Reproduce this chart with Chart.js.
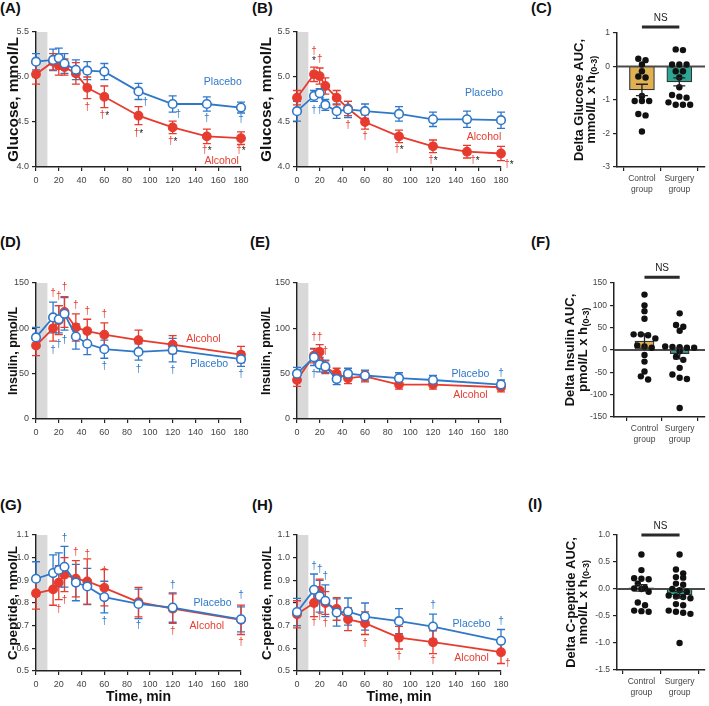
<!DOCTYPE html>
<html><head><meta charset="utf-8">
<script src="https://cdn.jsdelivr.net/npm/chart.js@4.4.1/dist/chart.umd.min.js"></script>
<style>
html,body{margin:0;padding:0;background:#fff}
body{width:709px;height:706px;position:relative;overflow:hidden;font-family:'Liberation Sans',Arial,sans-serif}
canvas{position:absolute}
.lab{position:absolute;font:bold 15px/15px 'Liberation Sans',Arial,sans-serif;color:#111}
</style></head>
<body>
<div class="lab" style="left:0;top:0">(A)</div>
<div class="lab" style="left:252px;top:0">(B)</div>
<div class="lab" style="left:531px;top:0">(C)</div>
<div class="lab" style="left:0;top:234px">(D)</div>
<div class="lab" style="left:250px;top:234px">(E)</div>
<div class="lab" style="left:531px;top:234px">(F)</div>
<div class="lab" style="left:0;top:497px">(G)</div>
<div class="lab" style="left:252px;top:497px">(H)</div>
<div class="lab" style="left:528px;top:496px">(I)</div>
<script>
// ---------------- DATA ----------------
const timesFull = [0,15,20,25,35,45,60,90,120,150,180];
const timesShort = [0,15,20,25,35,45,60,90,120,180];
const timeTicks = [0,20,40,60,80,100,120,140,160,180];

// (A) glucose, control group
const glucoseCtrlPlacebo    = [5.17,5.19,5.21,5.15,5.08,5.07,5.06,4.84,4.70,4.70,4.66];
const glucoseCtrlPlaceboSem = [0.09,0.12,0.11,0.11,0.11,0.10,0.09,0.09,0.09,0.08,0.06];
const glucoseCtrlAlcohol    = [5.03,5.17,5.13,5.11,5.04,4.88,4.78,4.57,4.44,4.34,4.32];
const glucoseCtrlAlcoholSem = [0.11,0.09,0.11,0.09,0.12,0.12,0.12,0.10,0.07,0.08,0.07];
// (B) glucose, surgery group
const glucoseSurgPlacebo    = [4.62,4.79,4.82,4.69,4.62,4.64,4.62,4.59,4.53,4.53,4.52];
const glucoseSurgPlaceboSem = [0.11,0.06,0.05,0.06,0.08,0.09,0.08,0.08,0.08,0.09,0.09];
const glucoseSurgAlcohol    = [4.77,5.03,5.01,4.90,4.77,4.65,4.50,4.34,4.23,4.17,4.15];
const glucoseSurgAlcoholSem = [0.08,0.08,0.09,0.09,0.08,0.08,0.08,0.07,0.07,0.07,0.08];
// (D) insulin, control group
const insulinCtrlPlacebo    = [90,112,110,116,91,83,77,74,76,66];
const insulinCtrlPlaceboSem = [11,17,15,18,14,12,10,9,13,8];
const insulinCtrlAlcohol    = [81,100,109,118,101,97,93,87,82,71];
const insulinCtrlAlcoholSem = [11,14,16,17,15,13,13,11,10,9];
// (E) insulin, surgery group
const insulinSurgPlacebo    = [50,68,60,58,44,50,48,45,43,38];
const insulinSurgPlaceboSem = [7,9,8,7,6,6,6,6,5,5];
const insulinSurgAlcohol    = [43,70,74,57,50,45,47,38,38,35];
const insulinSurgAlcoholSem = [7,8,8,7,6,6,6,5,5,5];
// (G) C-peptide, control group
const cpepCtrlPlacebo    = [0.907,0.932,0.946,0.960,0.890,0.873,0.826,0.796,0.780,0.728];
const cpepCtrlPlaceboSem = [0.075,0.08,0.075,0.09,0.08,0.08,0.07,0.065,0.065,0.055];
const cpepCtrlAlcohol    = [0.843,0.860,0.890,0.925,0.907,0.895,0.867,0.804,0.775,0.726];
const cpepCtrlAlcoholSem = [0.07,0.07,0.075,0.075,0.08,0.10,0.08,0.065,0.065,0.065];
// (H) C-peptide, surgery group
const cpepSurgPlacebo    = [0.760,0.858,0.830,0.810,0.758,0.762,0.740,0.720,0.696,0.633];
const cpepSurgPlaceboSem = [0.06,0.07,0.07,0.07,0.06,0.06,0.06,0.055,0.055,0.05];
const cpepSurgAlcohol    = [0.750,0.800,0.855,0.800,0.774,0.728,0.711,0.647,0.627,0.583];
const cpepSurgAlcoholSem = [0.06,0.06,0.05,0.05,0.05,0.05,0.05,0.05,0.05,0.05];

// significance marks: [series, time, value, text]  (p = placebo, a = alcohol, k = black)
const marksA = [['a',45,4.66,'†'],['a',60,4.57,'†*'],['a',90,4.38,'†*'],['a',120,4.29,'†*'],['a',150,4.19,'†*'],['a',180,4.19,'†*'],
                ['p',96,4.72,'†'],['p',125,4.59,'†'],['p',150,4.54,'†'],['p',180,4.53,'†']];
const marksB = [['a',15,5.29,'†'],['k',15,5.19,'*'],['a',20,5.20,'†'],['a',45,4.46,'†'],['a',60,4.34,'†'],['a',90,4.20,'†*'],
                ['a',120,4.07,'†*'],['a',157,4.07,'†*'],['a',187,4.03,'†*'],['p',15,4.63,'†'],['p',20,4.63,'†']];
const marksD = [['a',15,139,'†'],['a',20,135,'†'],['a',25,145,'†'],['a',35,126,'†'],['a',45,119,'†'],['a',60,115,'†'],
                ['p',15,76,'†'],['p',20,82,'†'],['p',25,87,'†'],['p',60,58,'†'],['p',90,55,'†'],['p',120,54,'†'],['p',180,49,'†']];
const marksE = [['a',15,90,'†'],['a',20,90,'†'],['a',25,75,'†'],['p',15,49,'†'],['p',180,50,'†']];
const marksG = [['p',25,1.087,'†'],['p',60,0.718,'†'],['p',90,0.70,'†'],['p',120,0.88,'†'],['p',180,0.832,'†'],
                ['a',35,1.026,'†'],['a',45,1.013,'†'],['a',60,0.94,'†'],['a',20,0.774,'†'],['a',25,0.811,'†'],['a',120,0.674,'†'],['a',180,0.625,'†']];
const marksH = [['p',15,0.964,'†'],['p',20,0.95,'†'],['p',25,0.917,'†'],['p',120,0.789,'†'],['p',180,0.718,'†'],
                ['a',15,0.715,'†'],['a',20,0.743,'†'],['a',25,0.711,'†'],['a',60,0.622,'†'],['a',90,0.563,'†'],['a',120,0.546,'†'],['a',186,0.534,'†']];

// series name labels: [series, time, value]
const namesA = [['p',164,4.94],['a',163,4.06]];
const namesB = [['p',165,4.82],['a',165,4.33]];
const namesD = [['a',147,88],['p',152,60]];
const namesE = [['p',153,50],['a',153,26.5]];
const namesG = [['p',155,0.80],['a',150,0.70]];
const namesH = [['p',154,0.706],['a',154,0.556]];

// AUC panels
const groups = [['Control','group'],['Surgery','group']];
const groupPos = [1, 2.5];
const glucoseAucMean = [-0.70,-0.46], glucoseAucSem = [0.17,0.12];
const glucoseAucCtrl = [0.23,0.19,0.06,-0.14,-0.30,-0.33,-0.88,-1.03,-1.03,-1.03,-1.42,-1.46,-1.94];
const glucoseAucSurg = [0.51,0.49,0.06,0.06,0.06,-0.14,-0.14,-0.33,-0.62,-0.85,-0.90,-0.93,-1.07,-1.14,-1.14,-1.14];
const insulinAucMean = [20,-8], insulinAucSem = [16,12];
const insulinAucCtrl = [124,100,87,70,35,35,33,26,10,8,5,-11,-26,-48,-59,-66];
const insulinAucSurg = [82,56,52,43,8,7,6,5,5,-3,-15,-22,-40,-55,-62,-65,-130];
const cpepAucMean = [0.02,-0.11], cpepAucSem = [0.06,0.06];
const cpepAucCtrl = [0.64,0.35,0.20,0.19,0.18,0.10,0.02,0.01,0.0,-0.05,-0.25,-0.30,-0.40,-0.41,-0.42];
const cpepAucSurg = [0.64,0.36,0.29,0.22,0.21,0.10,0.08,0.0,-0.02,-0.05,-0.12,-0.14,-0.15,-0.17,-0.28,-0.30,-0.40,-0.42,-0.44,-0.46,-1.0];

// ---------------- DRAWING ----------------
const FONT = "'Liberation Sans', Arial, sans-serif";
const BLUE = '#2f78c9', RED = '#e63b2e', INK = '#222', TICK = '#444';
const GOLD = '#dfb153', TEAL = '#2fa693';
const COL = {p: BLUE, a: RED, k: INK};
Chart.defaults.font.family = FONT;

function mkCanvas(left, top, w, h){
  const c = document.createElement('canvas');
  c.width = w; c.height = h;
  c.style.left = left+'px'; c.style.top = top+'px';
  c.style.width = w+'px'; c.style.height = h+'px';
  document.body.appendChild(c);
  return c;
}

const deco = {
  id: 'deco',
  beforeDatasetsDraw(chart, args, o){
    const {ctx, chartArea: a, scales: {x, y}} = chart;
    if (o.band){
      const x0 = x.getPixelForValue(o.band[0]), x1 = x.getPixelForValue(o.band[1]);
      ctx.save(); ctx.fillStyle = '#d9d9d9';
      ctx.fillRect(x0+1, a.top, x1-x0-1, a.bottom-a.top-1);
      ctx.restore();
    }
    if (o.lineErrors){
      chart.data.datasets.forEach(ds => {
        if (!ds.errors) return;
        ctx.save(); ctx.strokeStyle = ds.borderColor; ctx.lineWidth = 1.3;
        ds.data.forEach((p, i) => {
          const e = ds.errors[i];
          const px = x.getPixelForValue(p.x), pt = y.getPixelForValue(p.y+e), pb = y.getPixelForValue(p.y-e);
          ctx.beginPath();
          ctx.moveTo(px, pt); ctx.lineTo(px, pb);
          ctx.moveTo(px-4, pt); ctx.lineTo(px+4, pt);
          ctx.moveTo(px-4, pb); ctx.lineTo(px+4, pb);
          ctx.stroke();
        });
        ctx.restore();
      });
    }
  },
  afterDatasetDraw(chart, args, o){
    if (!o.zero || chart.data.datasets[args.index].type !== 'bar') return;
    const {ctx, chartArea: a, scales: {y}} = chart;
    const y0 = y.getPixelForValue(0);
    ctx.save(); ctx.strokeStyle = '#4a4a4a'; ctx.lineWidth = 2;
    ctx.beginPath(); ctx.moveTo(a.left, y0); ctx.lineTo(a.right, y0); ctx.stroke();
    ctx.restore();
  },
  afterDatasetsDraw(chart, args, o){
    const {ctx, chartArea: a, scales: {x, y}} = chart;
    ctx.save();
    ctx.textBaseline = 'middle';
    (o.marks || []).forEach(([s, t, v, txt]) => {
      const px = x.getPixelForValue(t), py = y.getPixelForValue(v);
      ctx.font = '10px ' + FONT;
      const w = ctx.measureText(txt).width;
      let cx = px - w/2;
      ctx.textAlign = 'left';
      for (const ch of txt){
        ctx.fillStyle = ch === '*' ? INK : COL[s];
        ctx.fillText(ch, cx, ch === '*' ? py + 1 : py);
        cx += ctx.measureText(ch).width;
      }
    });
    (o.names || []).forEach(([s, t, v]) => {
      ctx.font = '10.5px ' + FONT; ctx.textAlign = 'center'; ctx.fillStyle = COL[s];
      ctx.fillText(s === 'p' ? 'Placebo' : 'Alcohol', x.getPixelForValue(t), y.getPixelForValue(v));
    });
    if (o.barErrors){
      const {pos, mean, sem} = o.barErrors;
      ctx.strokeStyle = INK; ctx.lineWidth = 1.3;
      pos.forEach((p, i) => {
        const px = x.getPixelForValue(p), pt = y.getPixelForValue(mean[i]+sem[i]), pb = y.getPixelForValue(mean[i]-sem[i]);
        ctx.beginPath();
        ctx.moveTo(px, pt); ctx.lineTo(px, pb);
        ctx.moveTo(px-6, pt); ctx.lineTo(px+6, pt);
        ctx.moveTo(px-6, pb); ctx.lineTo(px+6, pb);
        ctx.stroke();
      });
    }
    if (o.ns){
      const x1 = x.getPixelForValue(o.ns.from), x2 = x.getPixelForValue(o.ns.to), py = y.getPixelForValue(o.ns.y);
      ctx.strokeStyle = '#2a2a2a'; ctx.lineWidth = 3;
      ctx.beginPath(); ctx.moveTo(x1, py); ctx.lineTo(x2, py); ctx.stroke();
      ctx.font = '10px ' + FONT; ctx.fillStyle = INK; ctx.textAlign = 'center';
      ctx.fillText('NS', (x1+x2)/2, py - 9);
    }
    if (o.yTitle){
      const cy = (a.top + a.bottom)/2;
      const t = o.yTitle;
      ctx.save(); ctx.translate(a.left - t.off[0], cy); ctx.rotate(-Math.PI/2);
      ctx.font = 'bold 13px ' + FONT; ctx.fillStyle = '#111'; ctx.textAlign = 'center';
      ctx.fillText(t.line1, 0, 0);
      ctx.restore();
      ctx.save(); ctx.translate(a.left - t.off[1], cy); ctx.rotate(-Math.PI/2);
      ctx.fillStyle = '#111'; ctx.textAlign = 'left';
      ctx.font = 'bold 13px ' + FONT; const w1 = ctx.measureText(t.line2).width;
      ctx.font = 'bold 9px ' + FONT; const w2 = ctx.measureText(t.sub).width;
      const sx = -(w1+w2)/2;
      ctx.font = 'bold 13px ' + FONT; ctx.fillText(t.line2, sx, 0);
      ctx.font = 'bold 9px ' + FONT; ctx.fillText(t.sub, sx + w1 + 0.5, 4);
      ctx.restore();
    }
    ctx.restore();
  }
};

function axisCommon(){
  return {
    grid: {drawOnChartArea: false, drawTicks: true, tickLength: 4, color: INK, lineWidth: 1.2},
    border: {display: true, color: INK, width: 1.5},
  };
}

function linePanel(c){
  const PT = 10, PR = 16;
  const cv = mkCanvas(c.L - c.YW, c.T - PT, c.YW + (c.R - c.L) + PR, PT + (c.B - c.T) + c.XH);
  const pts = arr => c.times.map((t, i) => ({x: t, y: arr[i]}));
  new Chart(cv, {
    type: 'line',
    data: {datasets: [
      {label: 'Placebo', data: pts(c.pla), errors: c.plaSem, borderColor: BLUE, backgroundColor: '#fff',
       pointBackgroundColor: '#fff', pointBorderColor: BLUE, pointBorderWidth: 1.6, pointRadius: 4.3,
       borderWidth: 1.8, clip: false, order: 1, tension: 0},
      {label: 'Alcohol', data: pts(c.alc), errors: c.alcSem, borderColor: RED, backgroundColor: RED,
       pointBackgroundColor: RED, pointBorderColor: RED, pointBorderWidth: 1.2, pointRadius: 4.3,
       borderWidth: 1.8, clip: false, order: 2, tension: 0}
    ]},
    options: {
      responsive: false, animation: false, devicePixelRatio: 1, events: [],
      layout: {padding: {top: PT, right: PR, left: 0, bottom: 0}},
      plugins: {legend: {display: false}, tooltip: {enabled: false},
        deco: {band: [0, 10], lineErrors: true, marks: c.marks, names: c.names}},
      scales: {
        x: Object.assign(axisCommon(), {
          type: 'linear', min: 0, max: 180,
          afterFit: s => { s.height = c.XH; },
          afterBuildTicks: s => { s.ticks = timeTicks.map(v => ({value: v})); },
          ticks: {color: TICK, font: {size: 9}, padding: 4, maxRotation: 0, autoSkip: false},
          title: {display: !!c.xTitle, text: c.xTitle || '', color: '#111',
                  font: {size: 14, weight: 'bold'}, padding: {top: 0, bottom: 0}}
        }),
        y: Object.assign(axisCommon(), {
          type: 'linear', min: c.yMin, max: c.yMax,
          afterFit: s => { s.width = c.YW; },
          afterBuildTicks: s => { s.ticks = c.yTicks.map(v => ({value: v})); },
          ticks: {color: TICK, font: {size: 9}, padding: 3, callback: v => c.fmt(v)},
          title: {display: true, text: c.yTitle, color: '#111', font: {size: c.yFs, weight: 'bold'},
                  padding: {top: c.tOff - c.yFs*0.6, bottom: 0}}
        })
      }
    },
    plugins: [deco]
  });
}

// scatter layout: points that fall within a few pixels vertically share a row, spread symmetrically
function swarm(values, center, pxX, pxY, step){
  const sorted = values.slice().sort((a, b) => b - a);
  const rows = [];
  sorted.forEach(v => {
    const last = rows[rows.length - 1];
    if (last && (last[0] - v)*pxY < 4.5 && last.length < 5) last.push(v); else rows.push([v]);
  });
  const out = [];
  rows.forEach(r => r.forEach((v, i) => out.push({x: center + (i - (r.length - 1)/2)*step/pxX, y: v})));
  return out;
}

function barPanel(c){
  const YW = 62, PT = 34, XH = 32, PR = 2;
  const cv = mkCanvas(c.L - YW, c.T - PT, YW + (c.R - c.L) + PR, PT + (c.B - c.T) + XH);
  const pxX = (c.R - c.L)/(c.xMax - c.xMin), pxY = (c.B - c.T)/(c.yMax - c.yMin);
  const dots = swarm(c.ctrl, groupPos[0], pxX, pxY, 7.4).concat(swarm(c.surg, groupPos[1], pxX, pxY, 7.4));
  new Chart(cv, {
    type: 'bar',
    data: {datasets: [
      {type: 'scatter', data: dots, pointRadius: 3.2, pointBackgroundColor: '#111', pointBorderWidth: 0,
       backgroundColor: '#111', order: 1, clip: false},
      {type: 'bar', data: groupPos.map((p, i) => ({x: p, y: c.mean[i]})), backgroundColor: [GOLD, TEAL],
       borderColor: '#333', borderWidth: 1.2, barThickness: c.barW, order: 2}
    ]},
    options: {
      responsive: false, animation: false, devicePixelRatio: 1, events: [],
      layout: {padding: {top: PT, right: PR, left: 0, bottom: 0}},
      plugins: {legend: {display: false}, tooltip: {enabled: false},
        deco: {zero: true, barErrors: {pos: groupPos, mean: c.mean, sem: c.sem},
               ns: {from: groupPos[0], to: groupPos[1], y: c.nsY}, yTitle: c.yTitle}},
      scales: {
        x: Object.assign(axisCommon(), {
          type: 'linear', min: c.xMin, max: c.xMax, offset: false,
          afterFit: s => { s.height = XH; },
          afterBuildTicks: s => { s.ticks = groupPos.map(v => ({value: v})); },
          ticks: {color: TICK, font: {size: 8.5}, padding: 3, maxRotation: 0, autoSkip: false,
                  callback: (v, i) => groups[i]}
        }),
        y: Object.assign(axisCommon(), {
          type: 'linear', min: c.yMin, max: c.yMax,
          afterFit: s => { s.width = YW; },
          afterBuildTicks: s => { s.ticks = c.yTicks.map(v => ({value: v})); },
          ticks: {color: TICK, font: {size: 8.5}, padding: 3, callback: v => c.fmt(v)}
        })
      }
    },
    plugins: [deco]
  });
}

const f1 = v => v.toFixed(1), f0 = v => String(Math.round(v));

// Row 1
linePanel({L:36, R:241, T:32, B:167, YW:36, XH:20, tOff:14, times: timesFull,
  pla: glucoseCtrlPlacebo, plaSem: glucoseCtrlPlaceboSem, alc: glucoseCtrlAlcohol, alcSem: glucoseCtrlAlcoholSem,
  yMin: 4.0, yMax: 5.5, yTicks: [4.0,4.5,5.0,5.5], fmt: f1, yTitle: 'Glucose, mmol/L', yFs: 15.5,
  marks: marksA, names: namesA});
linePanel({L:297, R:501, T:32, B:167, YW:44, XH:20, tOff:14, times: timesFull,
  pla: glucoseSurgPlacebo, plaSem: glucoseSurgPlaceboSem, alc: glucoseSurgAlcohol, alcSem: glucoseSurgAlcoholSem,
  yMin: 4.0, yMax: 5.5, yTicks: [4.0,4.5,5.0,5.5], fmt: f1, yTitle: 'Glucose, mmol/L', yFs: 15.5,
  marks: marksB, names: namesB});
barPanel({L:617, R:707, T:33, B:167, xMin: 0, xMax: 3.53, yMin: -3, yMax: 1, yTicks: [-3,-2,-1,0,1], fmt: f0,
  ctrl: glucoseAucCtrl, surg: glucoseAucSurg, mean: glucoseAucMean, sem: glucoseAucSem, barW: 25, nsY: 1.18,
  yTitle: {line1: 'Delta Glucose AUC,', line2: 'mmol/L x h', sub: '(0-3)', off: [38, 26]}});

// Row 2
linePanel({L:36, R:241, T:283, B:419, YW:36, XH:20, tOff:14, times: timesShort,
  pla: insulinCtrlPlacebo, plaSem: insulinCtrlPlaceboSem, alc: insulinCtrlAlcohol, alcSem: insulinCtrlAlcoholSem,
  yMin: 0, yMax: 150, yTicks: [0,50,100,150], fmt: f0, yTitle: 'Insulin, pmol/L', yFs: 12.5,
  marks: marksD, names: namesD});
linePanel({L:297, R:501, T:283, B:419, YW:44, XH:20, tOff:14, times: timesShort,
  pla: insulinSurgPlacebo, plaSem: insulinSurgPlaceboSem, alc: insulinSurgAlcohol, alcSem: insulinSurgAlcoholSem,
  yMin: 0, yMax: 150, yTicks: [0,50,100,150], fmt: f0, yTitle: 'Insulin, pmol/L', yFs: 12.5,
  marks: marksE, names: namesE});
barPanel({L:614, R:707, T:283, B:417, xMin: -0.3, xMax: 3.58, yMin: -150, yMax: 150, yTicks: [-150,-100,-50,0,50,100,150], fmt: f0,
  ctrl: insulinAucCtrl, surg: insulinAucSurg, mean: insulinAucMean, sem: insulinAucSem, barW: 19, nsY: 163,
  yTitle: {line1: 'Delta Insulin AUC,', line2: 'pmol/L x h', sub: '(0-3)', off: [44, 31]}});

// Row 3
linePanel({L:36, R:241, T:535, B:671, YW:36, XH:35, tOff:13, times: timesShort, xTitle: 'Time, min',
  pla: cpepCtrlPlacebo, plaSem: cpepCtrlPlaceboSem, alc: cpepCtrlAlcohol, alcSem: cpepCtrlAlcoholSem,
  yMin: 0.5, yMax: 1.1, yTicks: [0.5,0.6,0.7,0.8,0.9,1.0,1.1], fmt: f1, yTitle: 'C-peptide, nmol/L', yFs: 13.5,
  marks: marksG, names: namesG});
linePanel({L:297, R:501, T:535, B:671, YW:44, XH:35, tOff:14, times: timesShort, xTitle: 'Time, min',
  pla: cpepSurgPlacebo, plaSem: cpepSurgPlaceboSem, alc: cpepSurgAlcohol, alcSem: cpepSurgAlcoholSem,
  yMin: 0.5, yMax: 1.1, yTicks: [0.5,0.6,0.7,0.8,0.9,1.0,1.1], fmt: f1, yTitle: 'C-peptide, nmol/L', yFs: 13.5,
  marks: marksH, names: namesH});
barPanel({L:617, R:707, T:535, B:670, xMin: 0.04, xMax: 3.5, yMin: -1.5, yMax: 1.0, yTicks: [-1.5,-1.0,-0.5,0,0.5,1.0], fmt: f1,
  ctrl: cpepAucCtrl, surg: cpepAucSurg, mean: cpepAucMean, sem: cpepAucSem, barW: 25, nsY: 1.0,
  yTitle: {line1: 'Delta C-peptide AUC,', line2: 'nmol/L x h', sub: '(0-3)', off: [46, 34]}});
</script>
</body></html>
